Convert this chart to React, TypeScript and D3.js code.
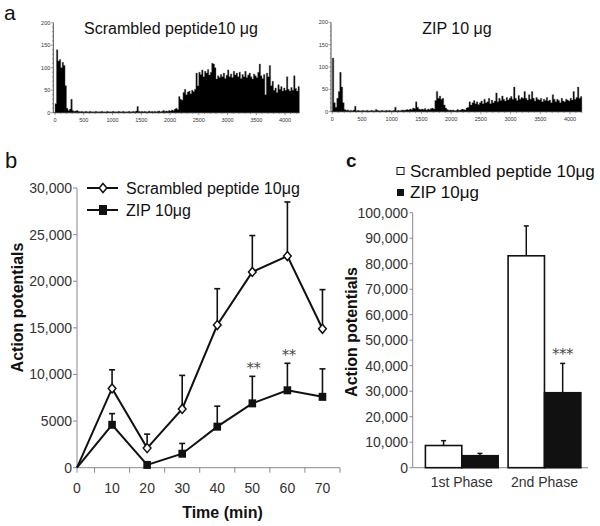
import React from 'react';
import * as d3 from 'd3';

// ---------- Panel a: firing histograms (25 s bins) ----------
const histBinSec = 25;
const scrambledHist = [
  20, 140, 115, 118, 100, 112, 105, 60, 10, 5,
  8, 30, 5, 3, 4, 5, 3, 2, 3, 2,
  2, 3, 2, 2, 3, 2, 2, 2, 3, 2,
  2, 2, 3, 2, 2, 2, 3, 2, 2, 2,
  3, 2, 2, 2, 3, 2, 2, 3, 2, 2,
  2, 3, 2, 2, 3, 2, 4, 14, 3, 2,
  3, 2, 3, 2, 2, 4, 2, 3, 2, 3,
  2, 3, 4, 2, 3, 5, 3, 4, 3, 5,
  4, 6, 5, 8, 10, 7, 36, 30, 28, 45,
  52, 40, 46, 48, 42, 50, 47, 52, 88, 60,
  90, 85, 95, 80, 92, 88, 96, 84, 90, 110,
  108, 100, 75, 82, 78, 85, 80, 88, 76, 83,
  95, 80, 86, 78, 92, 84, 88, 80, 90, 76,
  85, 80, 92, 78, 84, 88, 80, 75, 86, 82,
  78, 90, 108, 82, 76, 85, 40, 88, 80, 105,
  60, 70, 50, 55, 45, 62, 52, 58, 48, 55,
  50, 80, 52, 48, 56, 50, 82, 54, 48, 58,
];
const zipHist = [
  120, 20, 10, 30, 45, 88, 55, 20, 5, 3,
  4, 2, 3, 2, 4, 12, 2, 3, 2, 2,
  3, 2, 2, 3, 2, 2, 3, 2, 2, 5,
  3, 2, 2, 3, 2, 2, 3, 2, 3, 2,
  2, 3, 10, 2, 3, 2, 3, 4, 3, 4,
  5, 4, 6, 5, 8, 7, 22, 10, 6, 5,
  6, 5, 7, 4, 6, 5, 7, 8, 6, 25,
  45, 30, 35, 28, 30, 15, 8, 5, 3, 4,
  3, 4, 2, 3, 5, 3, 4, 6, 5, 4,
  8, 10, 22, 15, 20, 25, 18, 22, 16, 20,
  24, 18, 28, 20, 22, 30, 18, 26, 20, 24,
  42, 22, 30, 25, 35, 28, 24, 32, 26, 30,
  34, 28, 55, 30, 25, 36, 28, 32, 30, 45,
  30, 26, 38, 28, 45, 30, 24, 32, 28, 26,
  30, 22, 28, 25, 32, 24, 26, 20, 38, 28,
  22, 28, 25, 20, 30, 24, 22, 28, 26, 24,
  30, 26, 45, 28, 32, 55, 30, 34,
];
const histYTicks = [0, 50, 100, 150, 200];
const histXTicks = [0, 500, 1000, 1500, 2000, 2500, 3000, 3500, 4000];

// ---------- Panel b: time course ----------
const timeMin = [0, 10, 20, 30, 40, 50, 60, 70];
const scrambledAP = [0, 8500, 2100, 6300, 15300, 21000, 22700, 14900];
const scrambledSEM = [0, 2000, 1500, 3600, 3900, 3900, 5800, 4200];
const zipAP = [0, 4600, 300, 1500, 4400, 6900, 8300, 7600];
const zipSEM = [0, 1200, 0, 1100, 2200, 2900, 2900, 3000];
const bYTicks = [0, 5000, 10000, 15000, 20000, 25000, 30000];
const bYTickLabels = ['0', '5000', '10,000', '15,000', '20,000', '25,000', '30,000'];
const bXTicks = [0, 10, 20, 30, 40, 50, 60, 70];
const bXMinorTicks = [5, 15, 25, 35, 45, 55, 65, 75];
const bSigTimes = [50, 60];
const bSigLabels = ['**', '**'];

// ---------- Panel c: phases ----------
const phases = ['1st Phase', '2nd Phase'];
const scrambledPhase = [8700, 83100];
const scrambledPhaseSEM = [1900, 11700];
const zipPhase = [4700, 29400];
const zipPhaseSEM = [900, 11500];
const cYTicks = [0, 10000, 20000, 30000, 40000, 50000, 60000, 70000, 80000, 90000, 100000];
const cSigLabel = '***';

const FONT = 'Liberation Sans, Arial, Helvetica, sans-serif';
const AXIS = '#8a8a8a';
const TICKTXT = '#333';

function Histogram({ data, xStart, x4000, xEndVal, yZero, yTop, yAxisX, title, titleX }: any) {
  const x = d3.scaleLinear().domain([0, 4000]).range([xStart, x4000]);
  const y = d3.scaleLinear().domain([0, 200]).range([yZero, yTop]);
  const minorX = d3.range(0, xEndVal + 1, 100);
  const minorY = d3.range(0, 201, 10);
  const pts: [number, number][] = data.map((v: number, i: number) => [i * histBinSec, v]);
  pts.push([data.length * histBinSec, data[data.length - 1]]);
  const area = d3.area<[number, number]>()
    .x((d) => x(d[0]))
    .y0(yZero)
    .y1((d) => y(d[1]))
    .curve(d3.curveStepAfter);
  return (
    <g>
      <text x={titleX} y={34} textAnchor="middle" fontFamily={FONT} fontSize={16} fill="#111">{title}</text>
      <path d={area(pts) || ''} fill="#000" stroke="#555" strokeWidth={0.4} />
      <line x1={yAxisX} x2={yAxisX} y1={yTop} y2={yZero} stroke="#222" strokeWidth={0.8} />
      <line x1={yAxisX} x2={x(xEndVal)} y1={yZero} y2={yZero} stroke="#222" strokeWidth={0.8} />
      {minorY.map((v) => (
        <line key={'my' + v} x1={yAxisX - (v % 50 === 0 ? 2.5 : 1.2)} x2={yAxisX} y1={y(v)} y2={y(v)} stroke="#444" strokeWidth={0.5} />
      ))}
      {minorX.map((v) => (
        <line key={'mx' + v} x1={x(v)} x2={x(v)} y1={yZero} y2={yZero + (v % 500 === 0 ? 2.5 : 1.2)} stroke="#444" strokeWidth={0.5} />
      ))}
      {histYTicks.map((v) => (
        <text key={'yt' + v} x={yAxisX - 3} y={y(v) + 2} textAnchor="end" fontFamily={FONT} fontSize={5.5} fill={TICKTXT}>{v}</text>
      ))}
      {histXTicks.map((v) => (
        <text key={'xt' + v} x={x(v)} y={yZero + 9} textAnchor="middle" fontFamily={FONT} fontSize={5.5} fill={TICKTXT}>{v}</text>
      ))}
    </g>
  );
}

function PanelB() {
  const x = d3.scaleLinear().domain([0, 75]).range([77, 340]);
  const y = d3.scaleLinear().domain([0, 30000]).range([467.7, 188]);
  const line = d3.line<number>().x((_, i) => x(timeMin[i])).y((d) => y(d));
  const diamond = (cx: number, cy: number, r = 4.5) =>
    `M${cx},${cy - r}L${cx + r * 0.85},${cy}L${cx},${cy + r}L${cx - r * 0.85},${cy}Z`;
  return (
    <g>
      <text x={5} y={168} fontFamily={FONT} fontSize={22} fill="#111">b</text>
      <line x1={x(0)} x2={x(0)} y1={y(30000)} y2={y(0)} stroke={AXIS} strokeWidth={1} />
      <line x1={x(0)} x2={x(75)} y1={y(0)} y2={y(0)} stroke={AXIS} strokeWidth={1} />
      {bYTicks.map((v, i) => (
        <g key={'by' + v}>
          <line x1={x(0) - 4} x2={x(0)} y1={y(v)} y2={y(v)} stroke={AXIS} />
          <text x={72} y={y(v) + 5} textAnchor="end" fontFamily={FONT} fontSize={14} fill={TICKTXT}>{bYTickLabels[i]}</text>
        </g>
      ))}
      {bXMinorTicks.map((v) => (
        <line key={'bm' + v} x1={x(v)} x2={x(v)} y1={y(0)} y2={y(0) + 5} stroke={AXIS} />
      ))}
      <line x1={x(0)} x2={x(0)} y1={y(0)} y2={y(0) + 5} stroke={AXIS} />
      {bXTicks.map((v) => (
        <text key={'bx' + v} x={x(v)} y={493} textAnchor="middle" fontFamily={FONT} fontSize={14} fill={TICKTXT}>{v}</text>
      ))}
      <text x={222.5} y={518} textAnchor="middle" fontFamily={FONT} fontSize={16} fontWeight="bold" fill="#111">Time (min)</text>
      <text transform={`translate(23,307.5) rotate(-90)`} textAnchor="middle" fontFamily={FONT} fontSize={16} fontWeight="bold" fill="#111">Action potentials</text>
      {scrambledAP.map((v, i) => scrambledSEM[i] > 0 && (
        <g key={'se' + i}>
          <line x1={x(timeMin[i])} x2={x(timeMin[i])} y1={y(v)} y2={y(v + scrambledSEM[i])} stroke="#111" strokeWidth={1.6} />
          <line x1={x(timeMin[i]) - 3} x2={x(timeMin[i]) + 3} y1={y(v + scrambledSEM[i])} y2={y(v + scrambledSEM[i])} stroke="#111" strokeWidth={1.6} />
        </g>
      ))}
      {zipAP.map((v, i) => zipSEM[i] > 0 && (
        <g key={'ze' + i}>
          <line x1={x(timeMin[i])} x2={x(timeMin[i])} y1={y(v)} y2={y(v + zipSEM[i])} stroke="#111" strokeWidth={1.6} />
          <line x1={x(timeMin[i]) - 3} x2={x(timeMin[i]) + 3} y1={y(v + zipSEM[i])} y2={y(v + zipSEM[i])} stroke="#111" strokeWidth={1.6} />
        </g>
      ))}
      <path d={line(scrambledAP) || ''} fill="none" stroke="#111" strokeWidth={2} />
      <path d={line(zipAP) || ''} fill="none" stroke="#111" strokeWidth={2} />
      {scrambledAP.map((v, i) => i > 0 && (
        <path key={'sd' + i} d={diamond(x(timeMin[i]), y(v))} fill="#fff" stroke="#111" strokeWidth={1.5} />
      ))}
      {zipAP.map((v, i) => i > 0 && (
        <rect key={'zs' + i} x={x(timeMin[i]) - 3.8} y={y(v) - 4} width={7.6} height={8} fill="#111" />
      ))}
      {bSigTimes.map((t, i) => {
        const k = timeMin.indexOf(t);
        const top = y(zipAP[k] + zipSEM[k]);
        return (
          <text key={'sig' + i} x={x(t) + 1.5} y={top - 3} textAnchor="middle" fontFamily="DejaVu Serif, Liberation Serif, serif" fontSize={14} fill="#444">{bSigLabels[i]}</text>
        );
      })}
      <line x1={87} x2={118} y1={188} y2={188} stroke="#111" strokeWidth={2} />
      <path d={diamond(103, 188)} fill="#fff" stroke="#111" strokeWidth={1.5} />
      <text x={126} y={193.5} fontFamily={FONT} fontSize={16} fill="#111">Scrambled peptide 10μg</text>
      <line x1={87} x2={118} y1={210} y2={210} stroke="#111" strokeWidth={2} />
      <rect x={99} y={205} width={8} height={10} fill="#111" />
      <text x={126} y={215.5} fontFamily={FONT} fontSize={16} fill="#111">ZIP 10μg</text>
    </g>
  );
}

function PanelC() {
  const y = d3.scaleLinear().domain([0, 100000]).range([467.7, 212.7]);
  const x = d3.scaleBand<string>().domain(phases).range([412.7, 588]).paddingInner(0.12).paddingOuter(0.12).align(0.64);
  const sub = d3.scaleBand<string>().domain(['scr', 'zip']).range([0, x.bandwidth()]);
  const bw = sub.bandwidth();
  return (
    <g>
      <text x={346} y={166.5} fontFamily={FONT} fontSize={19} fontWeight="bold" fill="#111">c</text>
      <rect x={397} y={167.5} width={7} height={7} fill="#fff" stroke="#111" strokeWidth={1} />
      <text x={410} y={176.5} fontFamily={FONT} fontSize={17} fill="#111">Scrambled peptide 10μg</text>
      <rect x={397} y={189} width={7} height={7} fill="#111" />
      <text x={410} y={198} fontFamily={FONT} fontSize={17} fill="#111">ZIP 10μg</text>
      <line x1={412.7} x2={412.7} y1={y(100000)} y2={y(0)} stroke={AXIS} />
      <line x1={412.7} x2={588} y1={y(0)} y2={y(0)} stroke={AXIS} />
      {cYTicks.map((v) => (
        <g key={'cy' + v}>
          <line x1={409.5} x2={412.7} y1={y(v)} y2={y(v)} stroke={AXIS} />
          <text x={408} y={y(v) + 5} textAnchor="end" fontFamily={FONT} fontSize={14} fill={TICKTXT}>{d3.format(',')(v)}</text>
        </g>
      ))}
      <text transform={`translate(357,332) rotate(-90)`} textAnchor="middle" fontFamily={FONT} fontSize={16} fontWeight="bold" fill="#111">Action potentials</text>
      {phases.map((p, i) => {
        const x0 = x(p) as number;
        const sx = x0 + (sub('scr') as number);
        const zx = x0 + (sub('zip') as number);
        return (
          <g key={p}>
            <line x1={sx + bw / 2} x2={sx + bw / 2} y1={y(scrambledPhase[i])} y2={y(scrambledPhase[i] + scrambledPhaseSEM[i])} stroke="#111" strokeWidth={1.5} />
            <line x1={sx + bw / 2 - 2.5} x2={sx + bw / 2 + 2.5} y1={y(scrambledPhase[i] + scrambledPhaseSEM[i])} y2={y(scrambledPhase[i] + scrambledPhaseSEM[i])} stroke="#111" strokeWidth={1.5} />
            <line x1={zx + bw / 2} x2={zx + bw / 2} y1={y(zipPhase[i])} y2={y(zipPhase[i] + zipPhaseSEM[i])} stroke="#111" strokeWidth={1.5} />
            <line x1={zx + bw / 2 - 2.5} x2={zx + bw / 2 + 2.5} y1={y(zipPhase[i] + zipPhaseSEM[i])} y2={y(zipPhase[i] + zipPhaseSEM[i])} stroke="#111" strokeWidth={1.5} />
            <rect x={sx} y={y(scrambledPhase[i])} width={bw} height={y(0) - y(scrambledPhase[i])} fill="#fff" stroke="#111" strokeWidth={1.6} />
            <rect x={zx} y={y(zipPhase[i])} width={bw} height={y(0) - y(zipPhase[i])} fill="#111" stroke="#111" strokeWidth={1.6} />
            <text x={x0 + x.bandwidth() / 2} y={487} textAnchor="middle" fontFamily={FONT} fontSize={14} fill={TICKTXT}>{p}</text>
            {i === 1 && (
              <text x={zx + bw / 2} y={y(zipPhase[i] + zipPhaseSEM[i]) - 4} textAnchor="middle" fontFamily="DejaVu Serif, Liberation Serif, serif" fontSize={14} fill="#444">{cSigLabel}</text>
            )}
          </g>
        );
      })}
    </g>
  );
}

export default function App() {
  return (
    <svg width={600} height={526} style={{ position: 'absolute', left: 0, top: 0, background: '#fff' }}>
      <rect width={600} height={526} fill="#fff" />
      <text x={4} y={20} fontFamily={FONT} fontSize={21} fill="#111">a</text>
      <Histogram data={scrambledHist} xStart={55} x4000={285} xEndVal={4250} yZero={112.7} yTop={22.7}
        yAxisX={53.3} title="Scrambled peptide10 μg" titleX={171} />
      <Histogram data={zipHist} xStart={332.3} x4000={570} xEndVal={4200} yZero={111.7} yTop={22.3}
        yAxisX={331} title="ZIP 10 μg" titleX={457} />
      <PanelB />
      <PanelC />
    </svg>
  );
}
